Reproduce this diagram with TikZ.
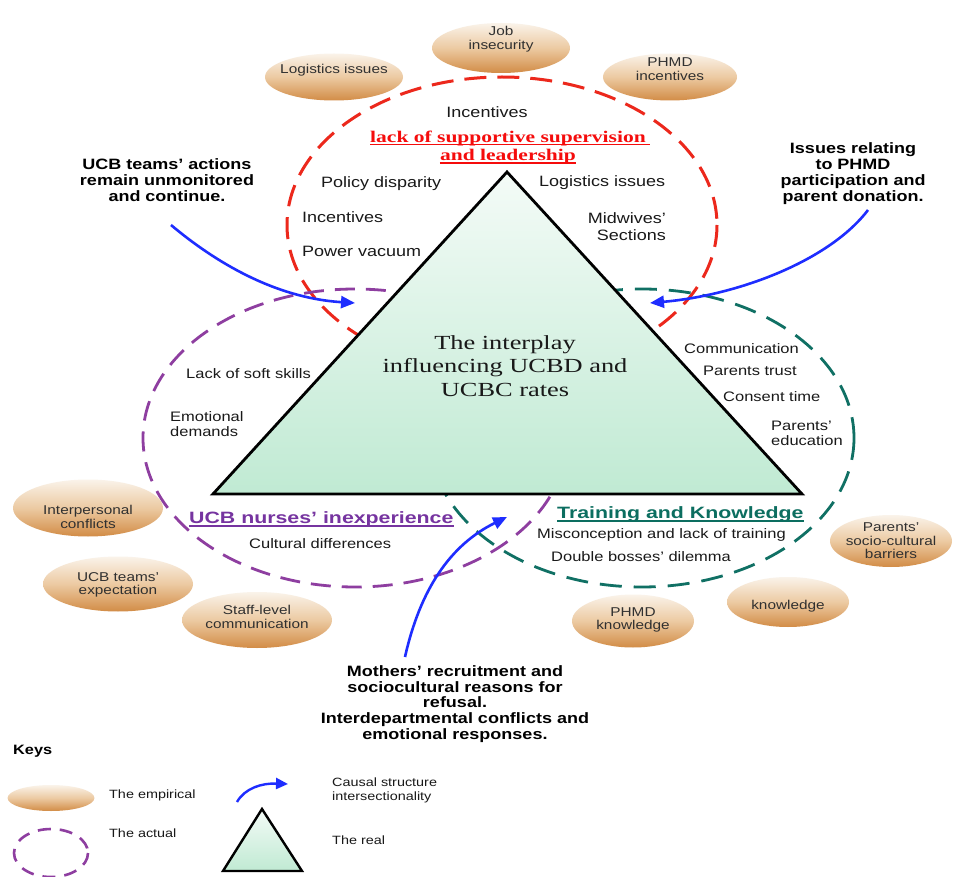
\documentclass[tikz,border=0pt]{standalone}
\usepackage{fontspec}
\setmainfont{Liberation Sans}[FakeStretch=1.2]
\newfontfamily\headfont{Liberation Sans}[FakeStretch=1.3]
\newfontfamily\serifwide{Liberation Serif}[FakeStretch=1.32]
\usetikzlibrary{shapes.geometric,arrows.meta}

\definecolor{dashred}{RGB}{236,40,28}
\definecolor{titlered}{RGB}{245,12,12}
\definecolor{dashpurple}{RGB}{142,62,160}
\definecolor{headpurple}{RGB}{118,52,160}
\definecolor{dashteal}{RGB}{16,112,100}
\definecolor{headteal}{RGB}{12,110,96}
\definecolor{causalblue}{RGB}{30,45,255}
\definecolor{bodytext}{RGB}{25,25,25}
\definecolor{emptop}{RGB}{250,243,234}
\definecolor{empmid}{RGB}{236,202,162}
\definecolor{empbot}{RGB}{210,140,70}
\definecolor{tritop}{RGB}{244,251,247}
\definecolor{tribot}{RGB}{192,234,211}

\newcommand\fsz[2]{\fontsize{#1}{#2}\selectfont}

\tikzset{
  actualred/.style={draw=dashred, line width=3pt, dash pattern=on 22pt off 11pt},
  actualpurple/.style={draw=dashpurple, line width=2.8pt, dash pattern=on 20pt off 11pt},
  actualteal/.style={draw=dashteal, line width=2.8pt, dash pattern=on 22pt off 12pt},
  realtri/.style={draw=black, line width=2.8pt, line join=miter, top color=tritop, bottom color=tribot},
  emp/.style={ellipse, inner sep=0pt, top color=emptop, bottom color=empbot, middle color=empmid},
  emptxt/.style={font=\fsz{12.8}{13.5}, text=bodytext!90, align=center, inner sep=0pt},
  body/.style={font=\fsz{13.75}{15}, text=bodytext, inner sep=0pt},
  bodytop/.style={font=\fsz{15}{17}, text=bodytext, inner sep=0pt},
  note/.style={font=\bfseries\fsz{15}{16}, text=black, align=center, inner sep=0pt},
  heading/.style={font=\headfont\bfseries\fsz{16.4}{18}, inner sep=0pt},
  keytxt/.style={font=\fsz{12}{14}, text=bodytext, inner sep=0pt, anchor=west, align=left},
  causal/.style={draw=causalblue, line width=2.6pt, -{Triangle[length=14pt,width=12pt]}},
}

\begin{document}
\begin{tikzpicture}[x=1pt, y=-1pt]
\useasboundingbox (0,0) rectangle (967,877);
\fill[white] (0,0) rectangle (967,877);

% the three "actual" circles
\draw[actualred] (502,225) ellipse [x radius=215, y radius=148];
\draw[actualpurple] (355,438) ellipse [x radius=212, y radius=149];
\draw[actualteal] (642,438) ellipse [x radius=212, y radius=149];

% the "real" triangle
\coordinate (apex) at (507,172);
\coordinate (baseL) at (213,494);
\coordinate (baseR) at (802,494);
\path[realtri] (apex) -- (baseR) -- (baseL) -- cycle;
\node[font=\serifwide\fsz{20}{23.5}, align=center, inner sep=0pt, text=bodytext] (core) at (505,366)
  {The interplay\\influencing UCBD and\\UCBC rates};

% empirical ellipses
\node[emp, minimum width=138pt, minimum height=47pt] (eLog) at (334,77) {};
\node[emptxt] (tLog) at (334,70) {Logistics issues};
\node[emp, minimum width=138pt, minimum height=50pt] (eJob) at (501,48) {};
\node[emptxt] (tJob) at (501,39) {Job\\insecurity};
\node[emp, minimum width=134pt, minimum height=47pt] (ePHI) at (670,77) {};
\node[emptxt] (tPHI) at (670,69) {PHMD\\incentives};
\node[emp, minimum width=150pt, minimum height=57pt] (eInt) at (88,508) {};
\node[emptxt] (tInt) at (88,517) {Interpersonal\\conflicts};
\node[emp, minimum width=150pt, minimum height=55pt] (eUTE) at (118,584) {};
\node[emptxt] (tUTE) at (118,585) {UCB teams'\\expectation};
\node[emp, minimum width=150pt, minimum height=56pt] (eSLC) at (257,620) {};
\node[emptxt] (tSLC) at (257,617) {Staff-level\\communication};
\node[emp, minimum width=122pt, minimum height=52pt] (ePSC) at (891,541) {};
\node[emptxt] (tPSC) at (891,541) {Parents'\\socio-cultural\\barriers};
\node[emp, minimum width=122pt, minimum height=50pt] (eKno) at (788,602) {};
\node[emptxt] (tKno) at (788,606) {knowledge};
\node[emp, minimum width=122pt, minimum height=53pt] (ePHK) at (633,621) {};
\node[emptxt] (tPHK) at (633,620) {PHMD\\knowledge};

% supervision circle
\node[bodytop, anchor=base] (incTop) at (487,118) {Incentives};
\node[font=\serifwide\bfseries\fsz{16.3}{18}, text=titlered, inner sep=0pt, anchor=base] (sup1) at (508,142.5) {lack of supportive supervision};
\node[font=\serifwide\bfseries\fsz{16.3}{18}, text=titlered, inner sep=0pt, anchor=base] (sup2) at (508,161) {and leadership};
\draw[titlered, line width=1.2pt] ([yshift=-2pt]sup1.base west) -- ([yshift=-2pt,xshift=4pt]sup1.base east);
\draw[titlered, line width=1.2pt] ([yshift=-2pt]sup2.base west) -- ([yshift=-2pt]sup2.base east);
\node[bodytop, anchor=base west] (pol) at (321,188) {Policy disparity};
\node[bodytop, anchor=base west] (incL) at (302,223) {Incentives};
\node[bodytop, anchor=base west] (pow) at (302,257) {Power vacuum};
\node[bodytop, anchor=base west] (logIn) at (539,187) {Logistics issues};
\node[bodytop, anchor=east, align=right] (mid) at (666,227) {Midwives'\\Sections};

% nurses circle
\node[body, anchor=base west] (soft) at (186,378) {Lack of soft skills};
\node[body, anchor=west, align=left, font=\fsz{13.75}{14.5}] (emo) at (170,424) {Emotional\\demands};
\node[heading, text=headpurple, anchor=base west] (nur) at (189,523) {UCB nurses’ inexperience};
\draw[headpurple, line width=1.3pt] ([yshift=-3pt]nur.base west) -- ([yshift=-3pt]nur.base east);
\node[body, anchor=base west] (cult) at (249,548) {Cultural differences};

% training circle
\node[body, anchor=base west] (com) at (684,354) {Communication};
\node[body, anchor=base west] (trust) at (703,376) {Parents trust};
\node[body, anchor=base west] (cons) at (723,402) {Consent time};
\node[body, anchor=west, align=left, font=\fsz{13.75}{15}] (pedu) at (771,433) {Parents'\\education};
\node[heading, text=headteal, anchor=base west] (trn) at (557,518) {Training and Knowledge};
\draw[headteal, line width=1.3pt] ([yshift=-3pt]trn.base west) -- ([yshift=-3pt]trn.base east);
\node[body, anchor=base west] (mis) at (537,538) {Misconception and lack of training};
\node[body, anchor=base west] (dbl) at (551,561) {Double bosses’ dilemma};

% causal notes and arrows
\node[note] (nLeft) at (167,180) {UCB teams’ actions\\remain unmonitored\\and continue.};
\node[note] (nRight) at (853,174) {Issues relating\\to PHMD\\participation and\\parent donation.};
\node[note, font=\bfseries\fsz{15}{15.75}] (nBottom) at (455,704) {Mothers’ recruitment and\\sociocultural reasons for\\refusal.\\Interdepartmental conflicts and\\emotional responses.};

\coordinate (aLs) at (171,225);
\coordinate (aLe) at (355,303);
\coordinate (aRs) at (868,210);
\coordinate (aRe) at (650,303);
\coordinate (aBs) at (405,657);
\coordinate (aBe) at (507,517);
\draw[causal] (aLs) .. controls (215,262) and (275,298) .. (aLe);
\draw[causal] (aRs) .. controls (830,260) and (740,295) .. (aRe);
\draw[causal] (aBs) .. controls (420,590) and (450,545) .. (aBe);

% keys
\node[font=\bfseries\fsz{13.6}{15}, inner sep=0pt, anchor=west] (keys) at (13,751) {Keys};
\node[emp, minimum width=87pt, minimum height=26pt] (kEmp) at (51,798) {};
\node[keytxt] (kEmpT) at (109,795) {The empirical};
\draw[draw=dashpurple, line width=2.6pt, dash pattern=on 13pt off 9pt] (51,853) ellipse [x radius=37, y radius=24];
\node[keytxt] (kActT) at (109,833) {The actual};
\coordinate (kAs) at (237,802);
\coordinate (kAe) at (288,784);
\draw[draw=causalblue, line width=2.4pt, -{Triangle[length=12pt,width=11pt]}] (kAs) .. controls (245,788) and (262,783) .. (kAe);
\node[keytxt] (kCauT) at (332,790) {Causal structure\\intersectionality};
\coordinate (kTa) at (262,809);
\coordinate (kTl) at (223,871);
\coordinate (kTr) at (302,871);
\path[realtri, line width=2.4pt] (kTa) -- (kTr) -- (kTl) -- cycle;
\node[keytxt] (kRealT) at (332,840) {The real};
\end{tikzpicture}
\end{document}
